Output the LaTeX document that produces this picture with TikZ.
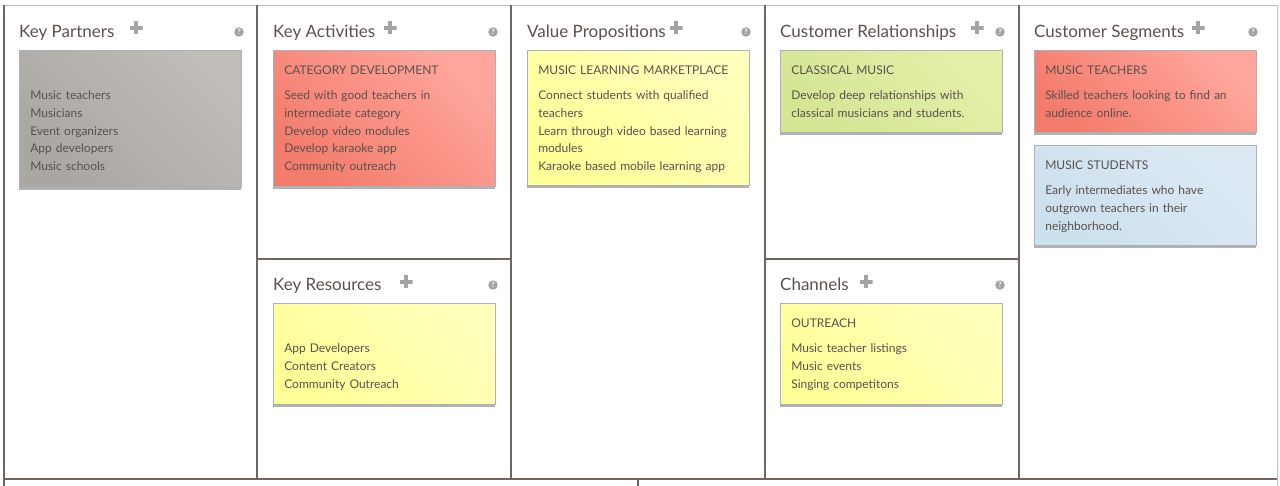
\documentclass[tikz,border=0pt]{standalone}
\usepackage{fontspec}
\setmainfont{Lato}
\usetikzlibrary{positioning,shadows}
\definecolor{ink}{HTML}{5A514E}
\definecolor{rule}{HTML}{6F6661}
\definecolor{faint}{HTML}{B8BFC4}
\definecolor{edge}{HTML}{A7B2BA}
\definecolor{plusgrey}{HTML}{A3A3A3}

\begin{document}
\begin{tikzpicture}[x=1pt, y=-1pt,
  font=\fontsize{12}{17.8}\selectfont, text=ink,
  title/.style={anchor=base west, inner sep=0pt, font=\fontsize{17}{20}\selectfont},
  plus/.style={inner sep=0pt, minimum size=13pt,
    path picture={\draw[draw=plusgrey, line width=3.6pt]
      (path picture bounding box.north) -- (path picture bounding box.south)
      (path picture bounding box.west) -- (path picture bounding box.east);}},
  help/.style={circle, fill=plusgrey, inner sep=0pt, minimum size=9.5pt, text=white, font=\fontsize{7.5}{7.5}\selectfont\bfseries},
  card/.style={anchor=north west, draw=edge, line width=0.6pt, inner xsep=11pt, inner ysep=0pt,
    text width=200pt, text height=24.5pt, align=left,
    drop shadow={shadow xshift=0pt, shadow yshift=-2.5pt, opacity=1, fill=black!30}},
  grey/.style={left color={rgb,255:red,170;green,167;blue,162}, right color={rgb,255:red,192;green,189;blue,184}, shading angle=135},
  red/.style={left color={rgb,255:red,243;green,124;blue,108}, right color={rgb,255:red,255;green,166;blue,156}, shading angle=135},
  yellow/.style={left color={rgb,255:red,255;green,255;blue,152}, right color={rgb,255:red,255;green,255;blue,188}, shading angle=135},
  green/.style={left color={rgb,255:red,212;green,229;blue,148}, right color={rgb,255:red,228;green,239;blue,168}, shading angle=135},
  blue/.style={left color={rgb,255:red,205;green,224;blue,238}, right color={rgb,255:red,220;green,233;blue,244}, shading angle=135}]
  \useasboundingbox (0,0) rectangle (1280,486);
  % frame
  \draw[faint, line width=0.8pt] (4,5) -- (1277,5);
  \draw[faint, line width=0.8pt] (1277,5) -- (1277,486);
  \draw[rule, line width=1.2pt] (4,5) -- (4,486);
  \foreach \x in {257,511,765,1019}
    \draw[rule, line width=1.2pt] (\x,5) -- (\x,479);
  \draw[rule, line width=1.2pt] (257,259) -- (511,259);
  \draw[rule, line width=1.2pt] (765,259) -- (1019,259);
  \draw[rule, line width=2pt] (4,479) -- (1277,479);
  \draw[rule, line width=1.2pt] (638,479) -- (638,486);
  % titles
  \node[title] (kp) at (19,38) {Key Partners};
  \node[title] (ka) at (273,38) {Key Activities};
  \node[title] (vp) at (527,38) {Value Propositions};
  \node[title] (cr) at (780,38) {Customer Relationships};
  \node[title] (cs) at (1034,38) {Customer Segments};
  \node[title] (kr) at (273,291) {Key Resources};
  \node[title] (ch) at (780,291) {Channels};
  \node[plus] (kpplus) at (136,28) {};
  \node[plus] (kaplus) at (390,28) {};
  \node[plus] (vpplus) at (676,28) {};
  \node[plus] (crplus) at (977,28) {};
  \node[plus] (csplus) at (1198,28) {};
  \node[plus] (krplus) at (406,282) {};
  \node[plus] (chplus) at (866,282) {};
  \node[help] (kphelp) at (239,32) {?};
  \node[help] (kahelp) at (493,32) {?};
  \node[help] (vphelp) at (746,32) {?};
  \node[help] (crhelp) at (1000,32) {?};
  \node[help] (cshelp) at (1253,32) {?};
  \node[help] (krhelp) at (493,285) {?};
  \node[help] (chhelp) at (1000,285) {?};
  % cards
  \node[card, grey, text depth=112.5pt] (kpnote) at (19,50)
    {\mbox{}\\[7pt] Music teachers\\ Musicians\\ Event organizers\\ App developers\\ Music schools};
  \node[card, red, text depth=111.5pt] (kanote) at (273,50)
    {CATEGORY DEVELOPMENT\\[7pt] Seed with good teachers in\\ intermediate category\\ Develop video modules\\ Develop karaoke app\\ Community outreach};
  \node[card, yellow, text depth=110.5pt] (vpnote) at (527,50)
    {MUSIC LEARNING MARKETPLACE\\[7pt] Connect students with qualified\\ teachers\\ Learn through video based learning\\ modules\\ Karaoke based mobile learning app};
  \node[card, green, text depth=57.5pt] (crnote) at (780,50)
    {CLASSICAL MUSIC\\[7pt] Develop deep relationships with\\ classical musicians and students.};
  \node[card, red, text depth=57.5pt] (csteach) at (1034,50)
    {MUSIC TEACHERS\\[7pt] Skilled teachers looking to find an\\ audience online.};
  \node[card, blue, text depth=75.5pt] (csstud) at (1034,145)
    {MUSIC STUDENTS\\[7pt] Early intermediates who have\\ outgrown teachers in their\\ neighborhood.};
  \node[card, yellow, text depth=76.5pt] (krnote) at (273,303)
    {\mbox{}\\[7pt] App Developers\\ Content Creators\\ Community Outreach};
  \node[card, yellow, text depth=76.5pt] (chnote) at (780,303)
    {OUTREACH\\[7pt] Music teacher listings\\ Music events\\ Singing competitons};
\end{tikzpicture}
\end{document}
